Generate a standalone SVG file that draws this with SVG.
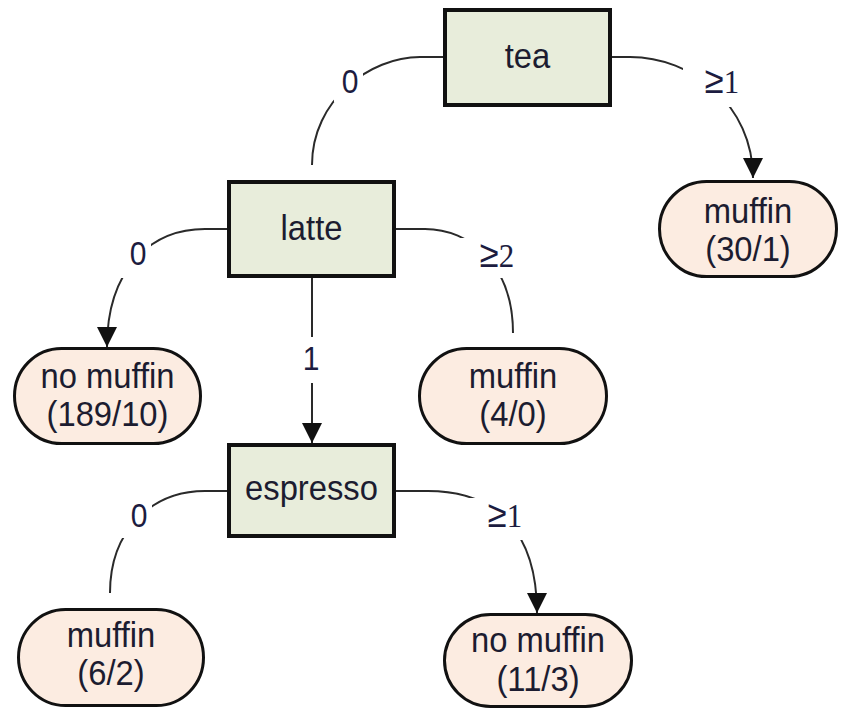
<svg xmlns="http://www.w3.org/2000/svg" width="844" height="709" viewBox="0 0 844 709">
<defs>
<style>
.split rect{fill:#E8EDDB;stroke:#111;stroke-width:4}
.leaf rect{fill:#FCECE1;stroke:#111;stroke-width:3}
.nt{font-family:"Liberation Sans",Arial,sans-serif;font-size:36px;fill:#1c1c30;text-anchor:middle}
.edge{fill:none;stroke:#2a2a2a;stroke-width:2}
.mask{fill:#fff;stroke:none}
.lt{font-family:"Liberation Sans",Arial,sans-serif;font-size:33px;fill:#1c1c40;text-anchor:middle}
.ge{font-size:38px}
.sf{font-family:"Liberation Serif","Times New Roman",serif;font-size:34px}
</style>
<marker id="arr" markerUnits="userSpaceOnUse" markerWidth="20" markerHeight="20" refX="20" refY="10" orient="auto">
<path d="M0,0 L20,10 L0,20 z" fill="#111"/>
</marker>
</defs>
<rect width="844" height="709" fill="#fff"/>
<g id="connectors">
<path class="edge" d="M443,57 L420,57 C370,57 312,100 312,165"/>
<path class="edge" d="M612,57 L630,57 C692,57 753,105 753,178" marker-end="url(#arr)"/>
<path class="edge" d="M227,229 L205,229 C150,229 107,270 107,347" marker-end="url(#arr)"/>
<path class="edge" d="M396,229 L425,229 C470,229 513,265 513,333"/>
<path class="edge" d="M312,278 L312,443" marker-end="url(#arr)"/>
<path class="edge" d="M227,491 L205,491 C152,491 110,530 110,593"/>
<path class="edge" d="M396,491 L428,491 C495,491 537,530 537,613" marker-end="url(#arr)"/>
<rect class="mask" x="334" y="66" width="29" height="36"/>
<rect class="mask" x="683" y="62" width="62" height="45"/>
<rect class="mask" x="119" y="238" width="32" height="40"/>
<rect class="mask" x="456" y="238" width="64" height="40"/>
<rect class="mask" x="300" y="337" width="24" height="46"/>
<rect class="mask" x="121" y="501" width="31" height="37"/>
<rect class="mask" x="466" y="498" width="64" height="42"/>
<text class="lt" transform="translate(350,93) scale(0.91,1)">0</text>
<text class="lt" transform="translate(722,93) scale(0.91,1)"><tspan class="ge">≥</tspan><tspan class="sf">1</tspan></text>
<text class="lt" transform="translate(138,265) scale(0.91,1)">0</text>
<text class="lt" transform="translate(497,267) scale(0.91,1)"><tspan class="ge">≥</tspan><tspan class="sf">2</tspan></text>
<text class="lt" transform="translate(311,370) scale(0.91,1)">1</text>
<text class="lt" transform="translate(139,527) scale(0.91,1)">0</text>
<text class="lt" transform="translate(505,527) scale(0.91,1)"><tspan class="ge">≥</tspan><tspan class="sf">1</tspan></text>
</g>
<g id="tea" class="split">
<rect x="445" y="10" width="165" height="95"/>
<text class="nt" transform="translate(527.5,68) scale(0.91,1)">tea</text>
</g>
<g id="latte" class="split">
<rect x="229" y="182" width="165" height="94"/>
<text class="nt" transform="translate(311.5,240) scale(0.91,1)">latte</text>
</g>
<g id="espresso" class="split">
<rect x="229" y="445" width="165" height="91"/>
<text class="nt" transform="translate(311.5,500) scale(0.91,1)">espresso</text>
</g>
<g id="leaf-muffin-30-1" class="leaf">
<rect x="659.5" y="181.5" width="177" height="95" rx="47" ry="47.5"/>
<text class="nt" transform="translate(748,223) scale(0.91,1)">muffin</text>
<text class="nt" transform="translate(748,261) scale(0.91,1)">(30/1)</text>
</g>
<g id="leaf-nomuffin-189-10" class="leaf">
<rect x="14.5" y="348.5" width="186" height="95" rx="47" ry="47.5"/>
<text class="nt" transform="translate(107.5,388) scale(0.91,1)">no muffin</text>
<text class="nt" transform="translate(107.5,426) scale(0.91,1)">(189/10)</text>
</g>
<g id="leaf-muffin-4-0" class="leaf">
<rect x="419.5" y="348.5" width="187" height="95" rx="47" ry="47.5"/>
<text class="nt" transform="translate(513,388) scale(0.91,1)">muffin</text>
<text class="nt" transform="translate(513,426) scale(0.91,1)">(4/0)</text>
</g>
<g id="leaf-muffin-6-2" class="leaf">
<rect x="18.5" y="609.5" width="185" height="96" rx="47" ry="48"/>
<text class="nt" transform="translate(111,647) scale(0.91,1)">muffin</text>
<text class="nt" transform="translate(111,685) scale(0.91,1)">(6/2)</text>
</g>
<g id="leaf-nomuffin-11-3" class="leaf">
<rect x="444.5" y="614.5" width="187" height="92" rx="46" ry="46"/>
<text class="nt" transform="translate(538,652) scale(0.91,1)">no muffin</text>
<text class="nt" transform="translate(538,691) scale(0.91,1)">(11/3)</text>
</g>
</svg>
